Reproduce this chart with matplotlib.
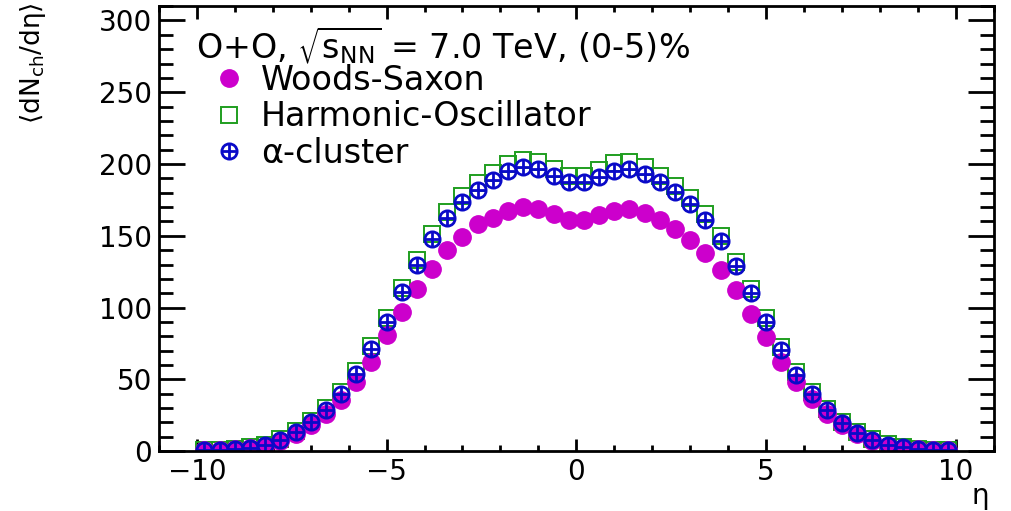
import numpy as np
import matplotlib
matplotlib.use('Agg')
import matplotlib.pyplot as plt

# --- данные: dN/deta для O+O, 7 TeV, (0-5)% ---
eta = [-9.8, -9.4, -9.0, -8.6, -8.2, -7.8, -7.4, -7.0, -6.6, -6.2,
       -5.8, -5.4, -5.0, -4.6, -4.2, -3.8, -3.4, -3.0, -2.6, -2.2,
       -1.8, -1.4, -1.0, -0.6, -0.2, 0.2, 0.6, 1.0, 1.4, 1.8,
       2.2, 2.6, 3.0, 3.4, 3.8, 4.2, 4.6, 5.0, 5.4, 5.8,
       6.2, 6.6, 7.0, 7.4, 7.8, 8.2, 8.6, 9.0, 9.4, 9.8]

woods_saxon = [0.6, 0.9, 1.2, 2.1, 3.6, 7.0, 11.8, 18.5, 26.0, 35.5,
               48.0, 62.0, 80.7, 97.0, 113.0, 127.0, 140.0, 149.0, 158.0, 162.6,
               167.0, 170.0, 169.0, 165.0, 160.7, 160.7, 164.2, 167.2, 168.9, 165.8,
               160.7, 155.0, 147.3, 138.0, 126.4, 112.0, 95.8, 79.5, 62.0, 48.0,
               36.6, 26.0, 18.5, 11.8, 7.0, 3.6, 2.1, 1.2, 0.9, 0.6]

harm_osc = [0.7, 1.0, 1.5, 2.6, 4.4, 8.4, 13.9, 21.3, 30.0, 41.5,
            56.0, 73.5, 93.0, 114.0, 133.5, 151.5, 166.5, 178.0, 187.0, 194.0,
            200.0, 202.5, 201.5, 196.5, 192.0, 192.0, 196.0, 200.5, 201.5, 198.0,
            192.0, 185.0, 176.5, 165.0, 150.0, 132.0, 113.0, 92.5, 72.5, 55.0,
            41.0, 29.5, 20.5, 13.5, 8.4, 4.8, 2.7, 1.5, 0.9, 0.7]

alpha_cl = [0.7, 1.0, 1.4, 2.5, 4.2, 8.1, 13.4, 20.5, 29.0, 40.0,
            54.0, 71.0, 90.0, 111.0, 130.0, 147.5, 162.4, 173.5, 182.0, 189.0,
            195.0, 197.8, 196.7, 192.0, 187.4, 187.4, 191.0, 195.5, 196.7, 193.2,
            187.4, 180.5, 172.4, 160.7, 146.4, 128.7, 110.2, 90.0, 70.3, 53.4,
            39.7, 28.5, 19.7, 13.0, 8.1, 4.6, 2.6, 1.4, 0.9, 0.7]

labels = ['Woods-Saxon', 'Harmonic-Oscillator', '\u03b1-cluster']
x_ticks = [-10, -5, 0, 5, 10]
y_ticks = [0, 50, 100, 150, 200, 250, 300]

plt.rcParams['font.family'] = ['DejaVu Sans']
plt.rcParams['mathtext.fontset'] = 'dejavusans'
plt.rcParams['axes.linewidth'] = 2.0

c_ws = '#cc00cc'
c_ho = '#1f9e1f'
c_al = '#0a0ac8'

fig = plt.figure(figsize=(10.12, 5.11), dpi=100)
ax = fig.add_axes([0.157, 0.117, 0.825, 0.871])

# порядок отрисовки: квадраты, затем диски, затем кружки с крестом
l_ho, = ax.plot(eta, harm_osc, 's', ms=11, mfc='none', mec=c_ho, mew=1.4, ls='none')
l_ws, = ax.plot(eta, woods_saxon, 'o', ms=12.5, color=c_ws, mec=c_ws, ls='none')
l_al1, = ax.plot(eta, alpha_cl, 'o', ms=11, mfc='none', mec=c_al, mew=2.0, ls='none')
l_al2, = ax.plot(eta, alpha_cl, '+', ms=11, mec=c_al, mew=2.0, ls='none')

ax.set_xlim(-11, 11)
ax.set_ylim(0, 310)
ax.set_xticks(x_ticks)
ax.set_yticks(y_ticks)
ax.set_xticklabels(['\u221210', '\u22125', '0', '5', '10'])
ax.xaxis.set_minor_locator(matplotlib.ticker.MultipleLocator(1))
ax.yaxis.set_minor_locator(matplotlib.ticker.MultipleLocator(10))
ax.tick_params(which='both', direction='in', top=True, right=True, labelsize=20, width=2)
ax.tick_params(axis='x', which='major', length=9, pad=5)
ax.tick_params(axis='x', which='minor', length=4.5)
ax.tick_params(axis='y', which='major', length=19, pad=5)
ax.tick_params(axis='y', which='minor', length=10)

ax.set_ylabel('\u27e8dN$_{\\rm ch}$/d\u03b7\u27e9', fontsize=19, loc='top')
ax.yaxis.set_label_coords(-0.133, 1.01)
ax.set_xlabel('\u03b7', fontsize=20, loc='right')
ax.xaxis.set_label_coords(0.995, -0.07)

ax.text(0.045, 0.912, r'O+O, $\sqrt{\rm s_{NN}}$ = 7.0 TeV, (0-5)%',
        transform=ax.transAxes, fontsize=24, va='center', ha='left')

ax.legend([l_ws, l_ho, (l_al1, l_al2)], labels, loc='upper left',
          bbox_to_anchor=(0.064, 0.87), frameon=False, fontsize=24,
          handlelength=1.0, handletextpad=0.45, labelspacing=0.1, borderpad=0,
          borderaxespad=0)

fig.savefig('out.png', dpi=100)
